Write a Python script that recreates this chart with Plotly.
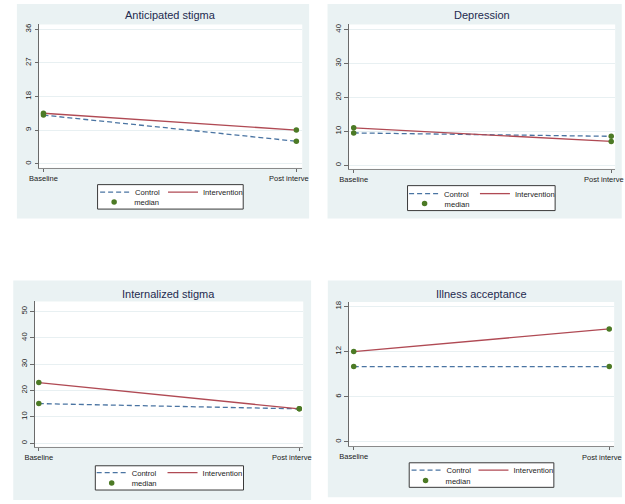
import plotly.graph_objects as go

# ---------------- data ----------------
time_labels = ["Baseline", "Post intervention"]
visible_post_label = "Post interve"   # label is cut off at the panel edge in the source figure
panel_titles = ["Anticipated stigma", "Depression", "Internalized stigma", "Illness acceptance"]
control_baseline = [13, 9.5, 15, 10]
control_post = [6, 8.5, 13, 10]
intervention_baseline = [13.5, 11, 23, 12]
intervention_post = [9, 7, 13, 15]
y_ticks = [[0, 9, 18, 27, 36], [0, 10, 20, 30, 40], [0, 10, 20, 30, 40, 50], [0, 6, 12, 18]]
series_names = ["Control", "Intervention", "median"]

# ---------------- layout (pixel geometry) ----------------
W, H = 625, 504
def fx(p): return p / W
def fy(p): return 1 - p / H

panels = [
    dict(bg=(7, 3, 304, 218), plot=(29.5, 23.5, 297, 167), yr=(-1.07, 37.28), xr=(-0.0175, 1.0233),
         box=(89, 184, 237, 208.5), rows=(191.5, 201.5), lx=(86.5, 155.5, 85.5), ty=14.5),
    dict(bg=(322.7, 3, 621.7, 218), plot=(344.5, 23.5, 615, 168), yr=(-1.03, 41.47), xr=(-0.0183, 1.0153),
         box=(404, 185, 554, 210), rows=(193, 203), lx=(400.5, 472.5, 401), ty=14.5),
    dict(bg=(3.3, 280, 306, 500), plot=(25, 301, 298, 446.7), yr=(-1.40, 53.79), xr=(-0.0162, 1.0151),
         box=(86.7, 465.7, 237.3, 490), rows=(472.5, 483), lx=(83, 155, 83), ty=293.5),
    dict(bg=(323, 280, 622, 497.3), plot=(344.3, 301.7, 614, 446), yr=(-0.57, 18.57), xr=(-0.0193, 1.0193),
         box=(405.7, 462.7, 552.7, 487.3), rows=(470, 480.5), lx=(403, 471, 402), ty=293.5),
]

C_CTRL = "#4A74A2"
C_INT = "#B04A54"
C_MED = "#4C7A25"
BG = "#EAF2F3"
FONT = "Liberation Sans, Arial, sans-serif"
TICK_FS = 7.5

fig = go.Figure()
shapes = []
annotations = []
layout = {}

for i, p in enumerate(panels):
    n = i + 1
    xa = "x" if n == 1 else f"x{n}"
    ya = "y" if n == 1 else f"y{n}"
    xkey = "xaxis" if n == 1 else f"xaxis{n}"
    ykey = "yaxis" if n == 1 else f"yaxis{n}"
    leg_ids = []
    for k in range(3):
        idx = 3 * i + k + 1
        leg_ids.append("legend" if idx == 1 else f"legend{idx}")

    x0, y0, x1, y1 = p["bg"]
    shapes.append(dict(type="rect", xref="paper", yref="paper", x0=fx(x0), x1=fx(x1), y0=fy(y1), y1=fy(y0),
                       fillcolor=BG, line=dict(width=0), layer="below"))
    px0, py0, px1, py1 = p["plot"]
    shapes.append(dict(type="rect", xref="paper", yref="paper", x0=fx(px0), x1=fx(px1), y0=fy(py1), y1=fy(py0),
                       fillcolor="white", line=dict(width=0), layer="below"))
    bx0, by0, bx1, by1 = p["box"]
    shapes.append(dict(type="rect", xref="paper", yref="paper", x0=fx(bx0), x1=fx(bx1), y0=fy(by1), y1=fy(by0),
                       fillcolor="white", line=dict(color="#3a3a3a", width=1), layer="below"))

    xs = [0, 1]
    fig.add_trace(go.Scatter(x=xs, y=[control_baseline[i], control_post[i]], mode="lines",
                             line=dict(color=C_CTRL, width=1.3, dash="5px,3px"), showlegend=True,
                             name=series_names[0], legend=leg_ids[0], xaxis=xa, yaxis=ya, hoverinfo="skip"))
    fig.add_trace(go.Scatter(x=xs, y=[intervention_baseline[i], intervention_post[i]], mode="lines",
                             line=dict(color=C_INT, width=1.3), showlegend=True,
                             name=series_names[1], legend=leg_ids[1], xaxis=xa, yaxis=ya, hoverinfo="skip"))
    fig.add_trace(go.Scatter(x=[0, 0, 1, 1],
                             y=[control_baseline[i], intervention_baseline[i], control_post[i], intervention_post[i]],
                             mode="markers", marker=dict(color=C_MED, size=5.5), showlegend=True,
                             name=series_names[2], legend=leg_ids[2], xaxis=xa, yaxis=ya, hoverinfo="skip"))

    r1, r2 = p["rows"]
    lxs = p["lx"]
    for k, (lid, ry) in enumerate(zip(leg_ids, [r1, r1, r2])):
        layout[lid] = dict(x=fx(lxs[k]), y=fy(ry), xanchor="left", yanchor="middle", bgcolor="rgba(0,0,0,0)",
                           borderwidth=0, font=dict(size=7.6, color="#1a1a1a", family=FONT),
                           orientation="h", itemwidth=30)

    layout[xkey] = dict(domain=[fx(px0), fx(px1)], anchor=ya, range=list(p["xr"]), tickvals=[0, 1],
                        ticktext=[time_labels[0], ""], ticks="outside", ticklen=3, tickcolor="#6a6a6a",
                        showline=True, linecolor="#8a8a8a", linewidth=1, showgrid=False, zeroline=False,
                        tickfont=dict(size=TICK_FS, color="#1a1a1a", family=FONT))
    layout[ykey] = dict(domain=[fy(py1), fy(py0)], anchor=xa, range=list(p["yr"]), tickvals=y_ticks[i],
                        ticks="outside", ticklen=3.5, tickcolor="#6a6a6a", showline=True, linecolor="#6a6a6a",
                        linewidth=1, showgrid=True, gridcolor="#E8F0F2", gridwidth=1, zeroline=False,
                        tickangle=-90, tickfont=dict(size=7.8, color="#1a1a1a", family=FONT))
    annotations.append(dict(text=panel_titles[i], xref="paper", yref="paper", x=fx((px0 + px1) / 2),
                            y=fy(p["ty"]), xanchor="center", yanchor="middle", showarrow=False,
                            font=dict(size=11, color="#1E2A4F", family=FONT)))
    # second category label, cut at the panel edge like the source: left edge where the full label would start
    annotations.append(dict(text=visible_post_label, xref=xa, yref="paper", x=1, y=fy(py1 + 5.5),
                            xanchor="left", yanchor="top", xshift=-28, showarrow=False, borderpad=0,
                            font=dict(size=TICK_FS, color="#1a1a1a", family=FONT)))

fig.update_layout(width=W, height=H, margin=dict(l=0, r=0, t=0, b=0), paper_bgcolor="white",
                  plot_bgcolor="rgba(0,0,0,0)", shapes=shapes, annotations=annotations,
                  font=dict(family=FONT), showlegend=True, hovermode=False, **layout)

fig.write_html("out.html", config={"displayModeBar": False, "staticPlot": True},
               post_script="document.body.style.margin='0';document.body.style.overflow='hidden';")
